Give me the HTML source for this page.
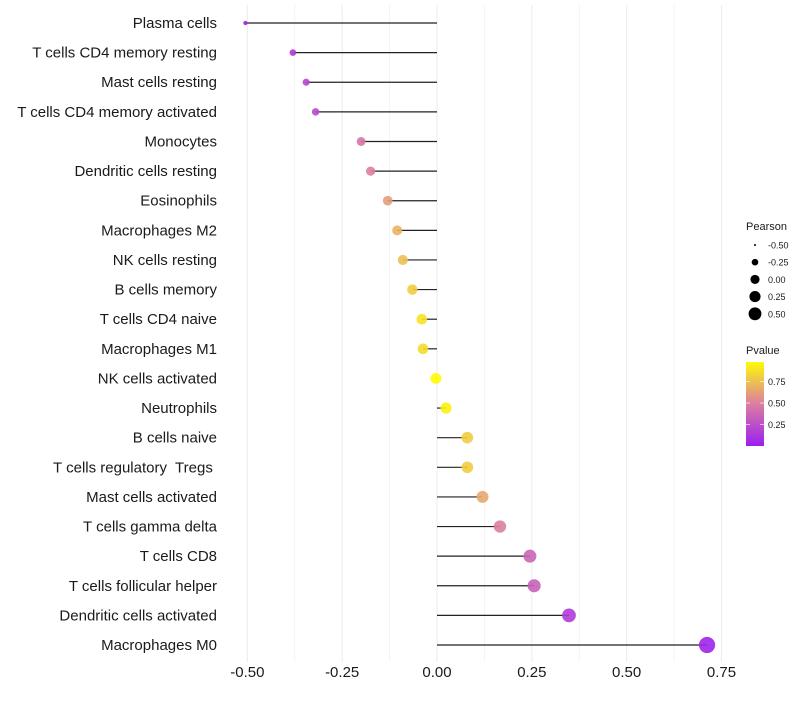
<!DOCTYPE html>
<html><head><meta charset="utf-8"><style>
body{margin:0;background:#fff;font-family:"Liberation Sans",sans-serif}
svg text{font-family:"Liberation Sans",sans-serif;white-space:pre}
</style></head><body>
<svg id="chart" width="800" height="700" viewBox="0 0 800 700">
<g id="grid"></g>
<g id="marks"></g>
<g id="ylab"></g>
<g id="xlab"></g>
<g id="legend"></g>
</svg>
<script>
const categories=["Plasma cells","T cells CD4 memory resting","Mast cells resting","T cells CD4 memory activated","Monocytes","Dendritic cells resting","Eosinophils","Macrophages M2","NK cells resting","B cells memory","T cells CD4 naive","Macrophages M1","NK cells activated","Neutrophils","B cells naive","T cells regulatory  Tregs ","Mast cells activated","T cells gamma delta","T cells CD8","T cells follicular helper","Dendritic cells activated","Macrophages M0"];
const pearson=[-0.505,-0.38,-0.345,-0.32,-0.20,-0.175,-0.13,-0.105,-0.09,-0.065,-0.04,-0.037,-0.003,0.024,0.08,0.08,0.12,0.166,0.245,0.256,0.348,0.712];
const pvalue=[0.02,0.15,0.2,0.22,0.45,0.5,0.62,0.7,0.75,0.8,0.88,0.86,0.99,0.95,0.8,0.8,0.66,0.5,0.36,0.34,0.15,0.03];
const xTicks=[-0.5,-0.25,0,0.25,0.5,0.75];
const xTickLabels=["-0.50","-0.25","0.00","0.25","0.50","0.75"];
const sizeLegend=[-0.5,-0.25,0,0.25,0.5];
const sizeLegendLabels=["-0.50","-0.25","0.00","0.25","0.50"];
const colorLegend=[0.25,0.5,0.75];

const NS="http://www.w3.org/2000/svg";
const X=v=>437+v*379.3;
const Y=i=>23+i*29.62;
const R=v=>Math.sqrt(Math.max(1,30+50*v));
const RL=v=>Math.sqrt(Math.max(1,21+40*v));
const stops=[[0,[155,31,240]],[0.5,[220,128,160]],[1,[255,255,0]]];
function col(p){p=Math.max(0,Math.min(1,p));let a=stops[0],b=stops[1];if(p>0.5){a=stops[1];b=stops[2];}
const t=(p-a[0])/(b[0]-a[0]);const c=a[1].map((v,k)=>Math.round(v+(b[1][k]-v)*t));return`rgb(${c})`;}
function mk(tag,attrs,parent){const e=document.createElementNS(NS,tag);for(const k in attrs)e.setAttribute(k,attrs[k]);parent.appendChild(e);return e;}
const grid=document.getElementById('grid'),marks=document.getElementById('marks'),ylab=document.getElementById('ylab'),xlab=document.getElementById('xlab'),leg=document.getElementById('legend');
for(let v=-0.5;v<=0.751;v+=0.125){const l=mk('line',{x1:X(v),x2:X(v),y1:5,y2:662,stroke:Math.abs((v*4)%1)<0.01?'#ebebeb':'#f3f3f3','stroke-width':1},grid);

}
categories.forEach((c,i)=>{
const ln=mk('line',{x1:X(0),x2:X(pearson[i]),y1:Y(i),y2:Y(i),stroke:'#222','stroke-width':1.2},marks);


const pt=mk('circle',{cx:X(pearson[i]),cy:Y(i),r:R(pearson[i]),fill:col(pvalue[i]),'fill-opacity':0.9},marks);


const t=mk('text',{x:217,y:Y(i)+5,'text-anchor':'end','font-size':15,fill:'#1a1a1a'},ylab);t.textContent=c;


});
xTicks.forEach((v,i)=>{const t=mk('text',{x:X(v),y:677,'text-anchor':'middle','font-size':15,fill:'#1a1a1a'},xlab);t.textContent=xTickLabels[i];

});
let tt=mk('text',{x:746,y:230,'font-size':11,fill:'#1a1a1a'},leg);tt.textContent='Pearson';


sizeLegend.forEach((v,i)=>{const y=245+i*17.2;
const c=mk('circle',{cx:755,cy:y,r:RL(v),fill:'#000'},leg);


const t=mk('text',{x:768,y:y+3.5,'font-size':9,fill:'#1a1a1a'},leg);t.textContent=sizeLegendLabels[i];

});
tt=mk('text',{x:746,y:354,'font-size':11,fill:'#1a1a1a'},leg);tt.textContent='Pvalue';


const defs=mk('defs',{},leg);const g=mk('linearGradient',{id:'pg',x1:0,y1:1,x2:0,y2:0},defs);
[0,0.25,0.5,0.75,1].forEach(o=>mk('stop',{offset:o,'stop-color':col(o*0.98)},g));
const bar=mk('rect',{x:746,y:362,width:18,height:84,fill:'url(#pg)'},leg);


const CY=p=>446-p*86;
colorLegend.forEach(p=>{mk('line',{x1:746,x2:750,y1:CY(p),y2:CY(p),stroke:'#fff','stroke-opacity':0.6},leg);mk('line',{x1:760,x2:764,y1:CY(p),y2:CY(p),stroke:'#fff','stroke-opacity':0.6},leg);
const t=mk('text',{x:768,y:CY(p)+3.5,'font-size':9,fill:'#1a1a1a'},leg);t.textContent=p.toFixed(2);

});
</script>
</body></html>
